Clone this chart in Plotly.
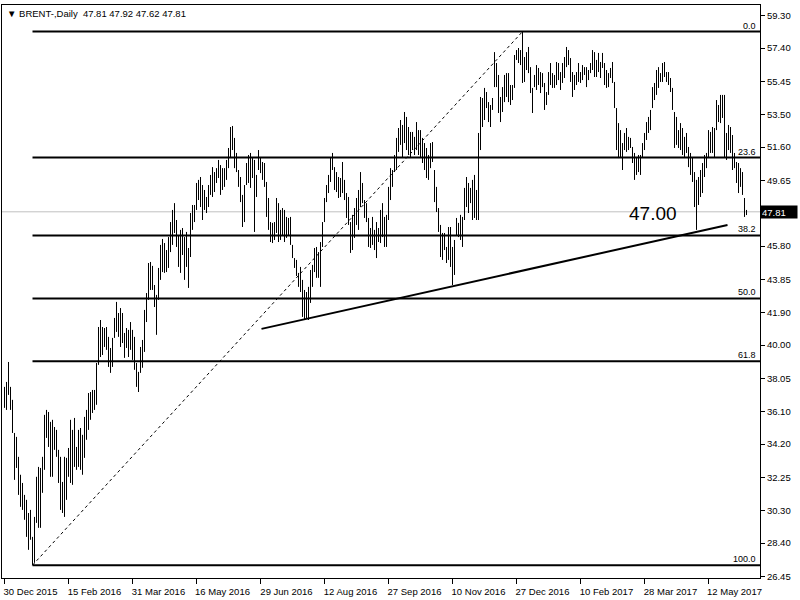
import plotly.graph_objects as go

# ---- data (Brent daily bars) ----
highs = [
    37.55, 37.84, 39.01, 37.55, 36.79, 34.85, 34.62, 33.45, 32.40, 31.92,
    31.22, 30.93, 30.16, 30.34, 28.76, 29.93, 32.28, 32.86, 32.80, 33.45,
    35.91, 36.20, 36.08, 35.50, 35.62, 35.20, 35.03, 33.86, 33.45, 31.98,
    33.45, 33.39, 33.97, 35.62, 35.03, 35.73, 34.03, 35.03, 35.14, 34.74,
    35.79, 36.20, 37.19, 37.25, 37.37, 37.37, 38.95, 41.06, 41.47, 41.06,
    41.00, 41.06, 40.48, 39.83, 40.42, 41.59, 42.53, 41.88, 42.17, 41.88,
    40.71, 41.00, 40.89, 41.35, 40.89, 40.48, 38.95, 38.43, 39.89, 40.30,
    42.06, 43.05, 44.81, 44.87, 44.64, 43.52, 42.94, 44.52, 45.87, 46.22,
    45.98, 45.57, 46.33, 47.21, 47.92, 48.32, 47.33, 46.45, 46.75, 46.86,
    46.33, 46.63, 45.69, 47.74, 48.21, 48.21, 49.50, 49.68, 49.85, 49.38,
    49.09, 48.68, 49.38, 49.97, 50.43, 50.14, 50.37, 50.85, 50.55, 50.37,
    50.37, 50.85, 51.55, 52.78, 52.84, 52.14, 51.26, 50.26, 49.85, 48.80,
    49.38, 50.67, 51.14, 51.26, 50.96, 50.85, 49.97, 51.43, 51.02, 50.73,
    50.67, 49.56, 48.62, 47.21, 47.16, 47.21, 48.62, 48.32, 47.92, 48.03,
    47.92, 47.51, 47.45, 47.51, 45.87, 45.10, 44.99, 44.23, 44.58, 43.82,
    43.23, 43.11, 43.41, 44.40, 44.70, 45.69, 45.75, 45.45, 46.04, 47.21,
    48.62, 49.38, 49.97, 51.02, 51.26, 50.43, 50.14, 49.85, 49.79, 50.73,
    49.68, 48.91, 48.68, 47.21, 47.63, 48.03, 48.62, 49.09, 50.14, 49.50,
    48.50, 48.32, 47.45, 46.86, 47.51, 46.75, 47.21, 46.86, 47.92, 48.32,
    47.51, 47.63, 49.27, 50.37, 50.26, 51.14, 52.14, 52.72, 53.19, 52.90,
    53.66, 53.37, 52.78, 52.49, 52.49, 52.20, 53.07, 52.60, 52.60, 52.14,
    51.84, 51.55, 51.14, 51.84, 51.90, 50.26, 49.27, 48.03, 47.04, 46.57,
    46.57, 45.75, 46.92, 46.92, 45.75, 46.16, 47.45, 47.16, 47.63, 47.51,
    49.21, 49.85, 49.50, 49.21, 49.68, 49.97, 49.09, 52.43, 54.54, 54.48,
    55.07, 54.83, 54.24, 54.07, 54.48, 57.17, 56.53, 55.83, 54.54, 55.12,
    55.83, 55.94, 55.94, 55.24, 55.24, 57.00, 57.29, 57.41, 57.29, 58.37,
    56.88, 57.17, 57.47, 56.29, 55.07, 55.83, 56.41, 56.24, 56.00, 55.94,
    55.36, 54.83, 56.00, 56.53, 55.94, 55.83, 56.59, 56.53, 56.00, 56.53,
    56.88, 57.47, 57.29, 56.82, 56.00, 55.83, 56.00, 56.53, 56.00, 56.41,
    56.29, 56.29, 56.12, 56.53, 57.29, 57.17, 56.71, 57.12, 56.59, 57.12,
    56.53, 56.12, 55.94, 56.24, 56.59, 55.42, 53.89, 53.01, 52.60, 51.84,
    52.43, 52.72, 52.20, 52.14, 51.61, 51.26, 51.02, 51.14, 51.14, 51.84,
    52.43, 53.07, 53.37, 53.78, 55.12, 55.36, 56.12, 56.29, 55.94, 56.53,
    56.59, 56.00, 56.00, 55.65, 55.07, 53.66, 53.37, 52.60, 53.01, 52.72,
    52.20, 52.43, 51.61, 51.26, 51.02, 50.14, 49.68, 49.85, 50.26, 50.67,
    51.14, 51.26, 52.60, 52.49, 52.78, 52.72, 54.36, 54.07, 54.66, 54.66,
    54.66, 52.43, 52.90, 52.78, 52.31, 51.26, 50.73, 50.67, 50.37, 50.14,
    48.62, 47.92,
]
lows = [
    36.32, 36.20, 37.08, 36.20, 34.85, 32.10, 32.80, 31.22, 30.52, 30.34,
    29.76, 28.76, 28.00, 28.59, 27.10, 27.24, 29.58, 29.29, 29.29, 31.34,
    32.69, 34.56, 34.03, 32.28, 32.28, 33.86, 33.45, 31.92, 30.34, 30.16,
    29.93, 30.93, 32.28, 31.92, 31.81, 32.86, 32.69, 32.86, 32.69, 32.40,
    33.39, 34.45, 35.03, 35.62, 36.02, 36.20, 36.50, 38.84, 39.30, 39.42,
    39.89, 39.72, 38.72, 38.37, 38.72, 40.42, 40.77, 40.48, 39.89, 40.12,
    39.25, 39.83, 39.30, 39.72, 39.13, 38.55, 37.55, 37.25, 38.37, 38.67,
    39.60, 41.35, 42.65, 43.23, 43.23, 42.23, 40.60, 42.65, 43.82, 44.28,
    44.23, 44.28, 44.52, 45.45, 45.87, 46.57, 45.75, 44.58, 44.23, 45.28,
    43.82, 44.58, 43.35, 45.16, 46.75, 47.21, 47.92, 48.50, 48.09, 47.33,
    47.92, 47.74, 48.09, 48.80, 48.68, 48.97, 49.50, 49.79, 48.80, 49.09,
    49.27, 49.68, 50.37, 51.02, 51.43, 50.37, 50.14, 49.27, 48.38, 46.92,
    47.21, 49.38, 49.50, 49.21, 49.79, 46.63, 48.68, 50.26, 50.08, 49.68,
    49.27, 47.51, 46.75, 46.04, 45.98, 46.16, 46.57, 46.04, 46.16, 46.45,
    46.04, 46.28, 46.45, 45.87, 45.10, 44.52, 44.05, 43.41, 43.11, 41.65,
    41.47, 41.53, 41.47, 42.47, 43.41, 44.28, 43.94, 43.94, 43.41, 45.75,
    47.21, 48.38, 48.91, 49.56, 50.26, 49.09, 48.97, 48.62, 48.68, 48.91,
    48.50, 47.45, 47.04, 45.40, 45.57, 46.28, 47.04, 46.75, 48.09, 48.32,
    47.45, 47.21, 45.75, 45.69, 45.87, 45.57, 45.10, 46.04, 45.98, 46.33,
    45.75, 45.75, 47.33, 48.50, 49.27, 50.14, 50.26, 51.32, 51.73, 51.02,
    51.84, 51.43, 51.14, 50.96, 51.43, 51.14, 51.43, 51.14, 50.96, 50.67,
    50.26, 49.79, 49.68, 50.37, 50.73, 48.38, 47.80, 46.63, 45.16, 44.99,
    45.57, 44.81, 44.99, 44.58, 43.52, 44.11, 46.45, 46.33, 46.16, 45.75,
    47.33, 48.09, 47.74, 48.32, 47.33, 47.45, 47.33, 47.33, 51.43, 52.78,
    53.19, 53.89, 53.07, 52.78, 53.78, 55.12, 55.12, 53.60, 53.07, 53.66,
    54.24, 54.54, 54.24, 54.07, 54.36, 55.07, 56.71, 56.53, 56.41, 55.36,
    55.42, 56.12, 55.94, 54.77, 53.60, 55.12, 54.95, 55.24, 54.77, 55.12,
    53.78, 54.07, 54.66, 55.24, 55.07, 55.07, 55.24, 55.53, 54.95, 55.36,
    55.65, 56.29, 56.41, 55.42, 54.54, 54.95, 55.24, 55.42, 55.36, 55.53,
    55.83, 55.12, 55.53, 55.94, 56.12, 55.71, 55.71, 56.00, 55.65, 56.24,
    55.24, 55.07, 55.12, 55.65, 55.36, 53.89, 51.43, 50.96, 51.02, 50.26,
    51.43, 51.32, 51.43, 51.55, 50.67, 49.68, 49.97, 50.14, 49.97, 51.02,
    51.43, 52.02, 52.43, 52.60, 53.89, 54.36, 54.66, 55.07, 55.42, 55.42,
    55.71, 55.42, 55.24, 54.83, 53.78, 51.55, 51.73, 51.55, 51.43, 51.14,
    51.02, 51.26, 50.43, 49.97, 49.56, 48.09, 46.75, 48.21, 48.68, 48.91,
    49.85, 50.37, 51.02, 51.26, 51.26, 51.02, 52.60, 53.07, 53.01, 53.31,
    51.02, 50.85, 51.43, 51.26, 50.26, 50.37, 49.50, 48.91, 49.27, 48.80,
    47.51, 47.62,
]

date_labels = ["30 Dec 2015", "15 Feb 2016", "31 Mar 2016", "16 May 2016",
               "29 Jun 2016", "12 Aug 2016", "27 Sep 2016", "10 Nov 2016",
               "27 Dec 2016", "10 Feb 2017", "28 Mar 2017", "12 May 2017"]
label_step = 32  # bars between date labels

price_ticks = [59.30, 57.40, 55.45, 53.50, 51.60, 49.65, 45.80, 43.85,
               41.90, 40.00, 38.05, 36.10, 34.20, 32.25, 30.30, 28.40, 26.45]

last_ohlc = [47.81, 47.92, 47.62, 47.81]
current_price = 47.81

fib_low_bar, fib_low = 14, 27.10
fib_high_bar, fib_high = 259, 58.37
fib_levels = [0.0, 23.6, 38.2, 50.0, 61.8, 100.0]

trend_x = [128.5, 361.5]
trend_y = [40.95, 47.04]
support_label = "47.00"
support_label_pos = (324, 47.72)

# ---- figure ----
n = min(len(highs), len(lows))
xs, ys = [], []
for i in range(n):
    xs += [i, i, None]
    ys += [lows[i], highs[i], None]

FONT = "Liberation Sans, Arial, sans-serif"
x_min, x_max = -1.25, 377.75

fig = go.Figure()
fig.add_trace(go.Scatter(x=xs, y=ys, mode="lines",
                         line=dict(color="black", width=1),
                         hoverinfo="skip", showlegend=False))

# current price line
fig.add_shape(type="line", xref="paper", x0=0, x1=1, y0=current_price, y1=current_price,
              line=dict(color="#c0c0c0", width=1), layer="below")

# fibonacci levels
rng = fib_high - fib_low
for lv in fib_levels:
    p = fib_high - rng * lv / 100.0
    fig.add_shape(type="line", x0=fib_low_bar, x1=x_max, y0=p, y1=p,
                  line=dict(color="black", width=2))
    fig.add_annotation(xref="paper", x=1, y=p, text=f"{lv:.1f}", showarrow=False,
                       xanchor="right", yanchor="bottom", xshift=-2, yshift=-1,
                       font=dict(family=FONT, size=9, color="black"))

# fib diagonal
fig.add_trace(go.Scatter(x=[fib_low_bar, fib_high_bar], y=[fib_low, fib_high], mode="lines",
                         line=dict(color="black", width=1, dash="3px,3px"),
                         hoverinfo="skip", showlegend=False))

# trendline
fig.add_trace(go.Scatter(x=trend_x, y=trend_y, mode="lines",
                         line=dict(color="black", width=2),
                         hoverinfo="skip", showlegend=False))

fig.add_annotation(x=support_label_pos[0], y=support_label_pos[1], text=support_label,
                   showarrow=False, font=dict(family=FONT, size=19, color="black"))

# title
fig.add_annotation(xref="paper", yref="paper", x=0, y=1, xanchor="left", yanchor="top",
                   xshift=3, yshift=-1, showarrow=False,
                   text="▼ BRENT-,Daily  " + " ".join(f"{v:.2f}" for v in last_ohlc),
                   font=dict(family=FONT, size=9.5, color="black"))

# current price box on right axis
fig.add_annotation(xref="paper", x=1, y=current_price, xanchor="left", showarrow=False,
                   text=f"{current_price:.2f}", bgcolor="black", width=34, height=10,
                   align="left", borderpad=1,
                   font=dict(family=FONT, size=9.5, color="white"))

fig.update_layout(
    width=800, height=600,
    margin=dict(l=2, r=40, t=5, b=22),
    paper_bgcolor="white", plot_bgcolor="white",
    showlegend=False,
    font=dict(family=FONT, size=9.5, color="black"),
    xaxis=dict(range=[x_min, x_max], showgrid=False, zeroline=False,
               showline=True, linecolor="black", linewidth=1, mirror=True,
               ticks="outside", ticklen=5, tickcolor="black",
               tickvals=[k * label_step for k in range(len(date_labels))],
               ticktext=date_labels, ticklabelshift=26,
               tickfont=dict(family=FONT, size=9.5, color="black")),
    yaxis=dict(range=[26.35, 59.93], side="right", showgrid=False, zeroline=False,
               showline=True, linecolor="black", linewidth=1, mirror=True,
               ticks="outside", ticklen=4, tickcolor="black",
               tickvals=price_ticks, ticktext=[f"{v:.2f}" for v in price_ticks],
               tickfont=dict(family=FONT, size=9.5, color="black")),
)

fig.write_html("out.html", config={"displayModeBar": False},
               post_script="document.body.style.margin='0';document.body.style.overflow='hidden';")
